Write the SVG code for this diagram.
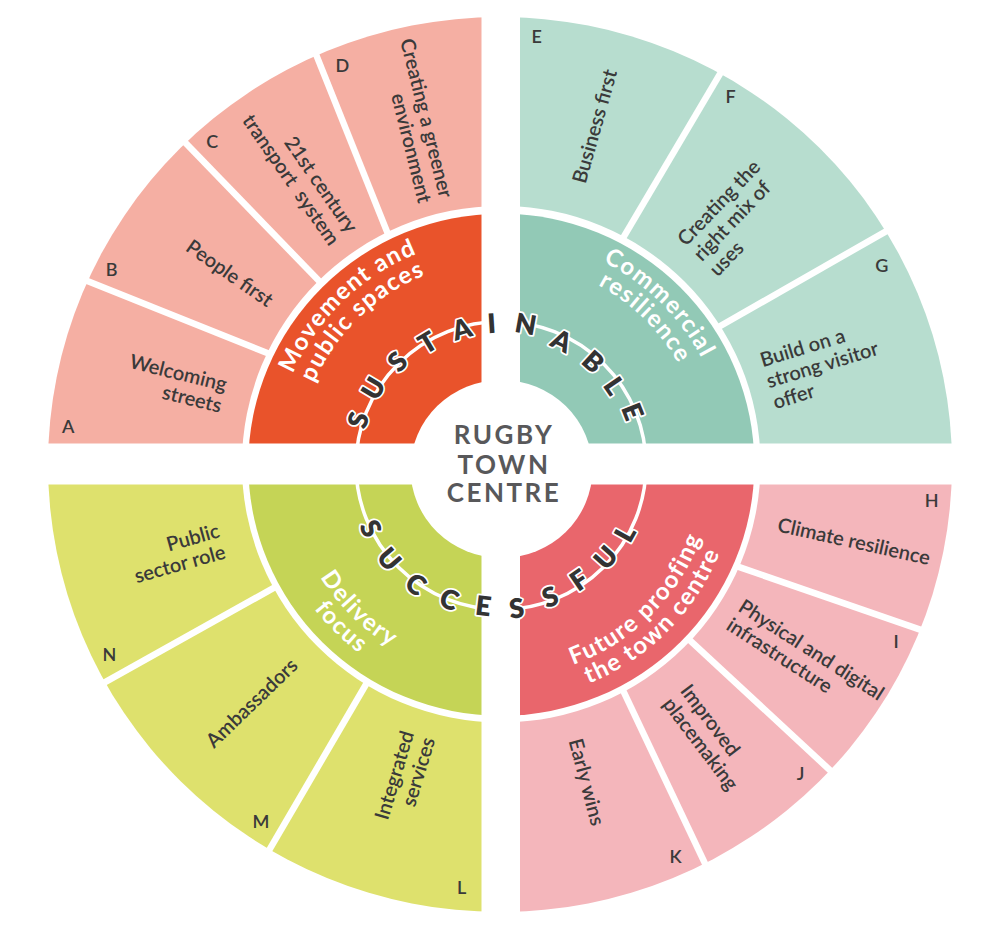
<svg xmlns="http://www.w3.org/2000/svg" width="1000" height="928" viewBox="0 0 1000 928">
<style>
.lbl{font-family:Lato,"Noto Sans","Liberation Sans",sans-serif;font-size:20px;font-weight:600;fill:#3a3a3a}
.key{font-family:Lato,"Noto Sans","Liberation Sans",sans-serif;font-size:18px;font-weight:600;fill:#3a3a3a;text-anchor:middle}
.cat{font-family:Lato,"Noto Sans","Liberation Sans",sans-serif;font-size:24px;font-weight:700;fill:#ffffff;letter-spacing:1.4px}
.ring{font-family:Lato,"Noto Sans","Liberation Sans",sans-serif;font-size:27px;font-weight:800;fill:#333333;stroke:#ffffff;stroke-width:3.5px;stroke-linejoin:round;paint-order:stroke;text-anchor:middle}
.ctr{font-family:Lato,"Noto Sans","Liberation Sans",sans-serif;font-size:26px;font-weight:700;fill:#58585a;text-anchor:middle;letter-spacing:2.5px}
.sep{stroke:#ffffff;stroke-width:6.5}
.gap{fill:#ffffff}
</style>
<defs>
<clipPath id="cTL"><rect x="0" y="0" width="501" height="464.5"/></clipPath>
<clipPath id="cTR"><rect x="501" y="0" width="499" height="464.5"/></clipPath>
<clipPath id="cBL"><rect x="0" y="464.5" width="501" height="463.5"/></clipPath>
<clipPath id="cBR"><rect x="501" y="464.5" width="499" height="463.5"/></clipPath>
<path id="pTL1" d="M274.03,460.54 A227,227 0 0 1 504.96,237.53"/>
<path id="pTL2" d="M297.03,460.94 A204,204 0 0 1 504.56,260.53"/>
<path id="pTR1" d="M499.02,237.51 A227,227 0 0 1 727.99,462.52"/>
<path id="pTR2" d="M499.22,260.51 A204,204 0 0 1 704.99,462.72"/>
<path id="pBL1" d="M288.01,466.36 A213,213 0 0 0 502.86,677.49"/>
<path id="pBL2" d="M265.01,466.56 A236,236 0 0 0 503.06,700.49"/>
<path id="pBR1" d="M501,677.5 A213,213 0 0 0 714,464.5"/>
<path id="pBR2" d="M501,700.5 A236,236 0 0 0 737,464.5"/>
</defs>
<rect x="0" y="0" width="1000" height="928" fill="#ffffff"/>

<g id="q-movement">
  <g clip-path="url(#cTL)">
    <ellipse cx="500" cy="464.5" rx="452" ry="447.5" fill="#F5AFA3"/>
    <line class="sep" x1="277.9" y1="357.3" x2="71.1" y2="274.4"/>
    <line class="sep" x1="323.7" y1="285.8" x2="172.3" y2="129.2"/>
    <line class="sep" x1="390.6" y1="240.6" x2="308.7" y2="36.1"/>
    <ellipse cx="501.2" cy="464.2" rx="259.3" ry="258.3" fill="#ffffff"/>
    <ellipse cx="501.3" cy="464.7" rx="253" ry="251" fill="#E9532B"/>
  </g>
  <text class="cat"><textPath href="#pTL1" startOffset="50%" text-anchor="middle">Movement and</textPath></text>
  <text class="cat"><textPath href="#pTL2" startOffset="50%" text-anchor="middle">public spaces</textPath></text>
</g>
<g id="seg-A"><text class="lbl" text-anchor="end" transform="translate(223.67 396.26) rotate(13.75)"><tspan x="0" y="-5">Welcoming</tspan><tspan x="0" y="17">streets</tspan></text><text class="key" x="68.3" y="432.5">A</text></g>
<g id="seg-B"><text class="lbl" text-anchor="end" transform="translate(270.32 302.82) rotate(35)"><tspan x="0" y="6">People first</tspan></text><text class="key" x="111.7" y="275.8">B</text></g>
<g id="seg-C"><text class="lbl" text-anchor="end" transform="translate(343.18 237.22) rotate(55.25)"><tspan x="0" y="-5">21st century</tspan><tspan x="0" y="17">transport&#160; system</tspan></text><text class="key" x="212.3" y="148.2">C</text></g>
<g id="seg-D"><text class="lbl" text-anchor="end" transform="translate(434.7 200.08) rotate(76)"><tspan x="0" y="-5">Creating a greener</tspan><tspan x="0" y="17">environment</tspan></text><text class="key" x="342.3" y="71.5">D</text></g>

<g id="q-commercial">
  <g clip-path="url(#cTR)">
    <ellipse cx="500" cy="464.5" rx="452" ry="447.5" fill="#B7DDCF"/>
    <line class="sep" x1="619.7" y1="243.6" x2="729.9" y2="57.1"/>
    <line class="sep" x1="712" y1="330.7" x2="901.3" y2="222.6"/>
    <ellipse cx="501.2" cy="464.2" rx="259.3" ry="258.3" fill="#ffffff"/>
    <ellipse cx="501.3" cy="464.7" rx="253" ry="251" fill="#92C9B6"/>
  </g>
  <text class="cat"><textPath href="#pTR1" startOffset="50%" text-anchor="middle">Commercial</textPath></text>
  <text class="cat"><textPath href="#pTR2" startOffset="50%" text-anchor="middle">resilience</textPath></text>
</g>
<g id="seg-E"><text class="lbl" text-anchor="start" transform="translate(579.76 182.96) rotate(-74.25)"><tspan x="0" y="6">Business first</tspan></text><text class="key" x="536.7" y="43.2">E</text></g>
<g id="seg-F"><text class="lbl" text-anchor="start" transform="translate(697.58 258.13) rotate(-46.25)"><tspan x="0" y="-16">Creating the</tspan><tspan x="0" y="6">right mix of</tspan><tspan x="0" y="28">uses</tspan></text><text class="key" x="730.7" y="103.2">F</text></g>
<g id="seg-G"><text class="lbl" text-anchor="start" transform="translate(767.31 382.43) rotate(-17)"><tspan x="0" y="-16">Build on a</tspan><tspan x="0" y="6">strong visitor</tspan><tspan x="0" y="28">offer</tspan></text><text class="key" x="881.7" y="271.5">G</text></g>

<g id="q-futureproofing">
  <g clip-path="url(#cBR)">
    <ellipse cx="500" cy="464.5" rx="452" ry="447.5" fill="#F4B6BB"/>
    <line class="sep" x1="728.5" y1="563.4" x2="937.5" y2="635.6"/>
    <line class="sep" x1="684" y1="634.8" x2="844.3" y2="783.5"/>
    <line class="sep" x1="620.3" y1="684.7" x2="713.7" y2="881.9"/>
    <ellipse cx="501.2" cy="464.2" rx="259.3" ry="258.3" fill="#ffffff"/>
    <ellipse cx="501.3" cy="464.7" rx="253" ry="251" fill="#E9666C"/>
  </g>
  <text class="cat"><textPath href="#pBR1" startOffset="50%" text-anchor="middle">Future proofing</textPath></text>
  <text class="cat"><textPath href="#pBR2" startOffset="50%" text-anchor="middle">the town centre</textPath></text>
</g>
<g id="seg-H"><text class="lbl" text-anchor="start" transform="translate(777.77 525.47) rotate(12.5)"><tspan x="0" y="6">Climate resilience</tspan></text><text class="key" x="931.7" y="506.5">H</text></g>
<g id="seg-I"><text class="lbl" text-anchor="start" transform="translate(734.31 614.39) rotate(32.75)"><tspan x="0" y="-5">Physical and digital</tspan><tspan x="0" y="17">infrastructure</tspan></text><text class="key" x="896" y="648.2">I</text></g>
<g id="seg-J"><text class="lbl" text-anchor="start" transform="translate(675.43 694.04) rotate(52.75)"><tspan x="0" y="-5">Improved</tspan><tspan x="0" y="17">placemaking</tspan></text><text class="key" x="800.7" y="779.8">J</text></g>
<g id="seg-K"><text class="lbl" text-anchor="start" transform="translate(574.26 739.29) rotate(75)"><tspan x="0" y="6">Early wins</tspan></text><text class="key" x="675.7" y="862.5">K</text></g>

<g id="q-delivery">
  <g clip-path="url(#cBL)">
    <ellipse cx="500" cy="464.5" rx="452" ry="447.5" fill="#DEE16D"/>
    <line class="sep" x1="283.1" y1="582.7" x2="88.6" y2="691.3"/>
    <line class="sep" x1="370.3" y1="677" x2="260.1" y2="865.7"/>
    <ellipse cx="501.2" cy="464.2" rx="259.3" ry="258.3" fill="#ffffff"/>
    <ellipse cx="501.3" cy="464.7" rx="253" ry="251" fill="#C5D456"/>
  </g>
  <text class="cat"><textPath href="#pBL1" startOffset="50%" text-anchor="middle">Delivery</textPath></text>
  <text class="cat"><textPath href="#pBL2" startOffset="50%" text-anchor="middle">focus</textPath></text>
</g>
<g id="seg-L"><text class="lbl" text-anchor="end" transform="translate(418.94 734.99) rotate(-73.25)"><tspan x="0" y="-5">Integrated</tspan><tspan x="0" y="17">services</tspan></text><text class="key" x="461.7" y="894.2">L</text></g>
<g id="seg-M"><text class="lbl" text-anchor="end" transform="translate(294.77 662.67) rotate(-44)"><tspan x="0" y="6">Ambassadors</tspan></text><text class="key" x="261" y="827.5">M</text></g>
<g id="seg-N"><text class="lbl" text-anchor="end" transform="translate(222.15 541.72) rotate(-15.6)"><tspan x="0" y="-5">Public</tspan><tspan x="0" y="17">sector role</tspan></text><text class="key" x="109.3" y="660.8">N</text></g>

<g id="ring-line">
  <ellipse cx="501" cy="465.5" rx="145" ry="144" fill="none" stroke="#ffffff" stroke-width="3.5"/>
</g>
<g id="gaps">
  <ellipse cx="501.5" cy="469" rx="91" ry="89" class="gap"/>
  <rect x="481.5" y="0" width="38.5" height="928" class="gap"/>
  <rect x="0" y="443.5" width="1000" height="41" class="gap"/>
</g>

<g id="sustainable">
  <text class="ring" transform="translate(358.3 420) rotate(-72.8)" y="9.7">S</text>
  <text class="ring" transform="translate(373.3 388.3) rotate(-59.2)" y="9.7">U</text>
  <text class="ring" transform="translate(397.5 361.7) rotate(-45.2)" y="9.7">S</text>
  <text class="ring" transform="translate(427.5 342.5) rotate(-31)" y="9.7">T</text>
  <text class="ring" transform="translate(461.7 329) rotate(-16)" y="9.7">A</text>
  <text class="ring" transform="translate(491.7 323.3) rotate(-3.6)" y="9.7">I</text>
  <text class="ring" transform="translate(525.8 324) rotate(10.2)" y="9.7">N</text>
  <text class="ring" transform="translate(561.7 340.8) rotate(26.4)" y="9.7">A</text>
  <text class="ring" transform="translate(593.3 361.7) rotate(42.2)" y="9.7">B</text>
  <text class="ring" transform="translate(614.2 385.8) rotate(55.5)" y="9.7">L</text>
  <text class="ring" transform="translate(632.5 411.7) rotate(68.4)" y="9.7">E</text>
</g>
<g id="successful">
  <text class="ring" transform="translate(370.8 528.3) rotate(63.6)" y="9.7">S</text>
  <text class="ring" transform="translate(389.2 559.2) rotate(49.5)" y="9.7">U</text>
  <text class="ring" transform="translate(415.8 584.2) rotate(35.2)" y="9.7">C</text>
  <text class="ring" transform="translate(449.2 599.2) rotate(20.8)" y="9.7">C</text>
  <text class="ring" transform="translate(483.3 605.8) rotate(6.9)" y="9.7">E</text>
  <text class="ring" transform="translate(516.7 608.3) rotate(-6.4)" y="9.7">S</text>
  <text class="ring" transform="translate(550 596.7) rotate(-20.5)" y="9.7">S</text>
  <text class="ring" transform="translate(579.2 580) rotate(-34.2)" y="9.7">F</text>
  <text class="ring" transform="translate(605.8 557.5) rotate(-48.4)" y="9.7">U</text>
  <text class="ring" transform="translate(625 533.3) rotate(-60.9)" y="9.7">L</text>
</g>

<g id="centre">
  <text class="ctr" x="504" y="443.5">RUGBY</text>
  <text class="ctr" x="504" y="473.5">TOWN</text>
  <text class="ctr" x="504" y="502">CENTRE</text>
</g>
</svg>
